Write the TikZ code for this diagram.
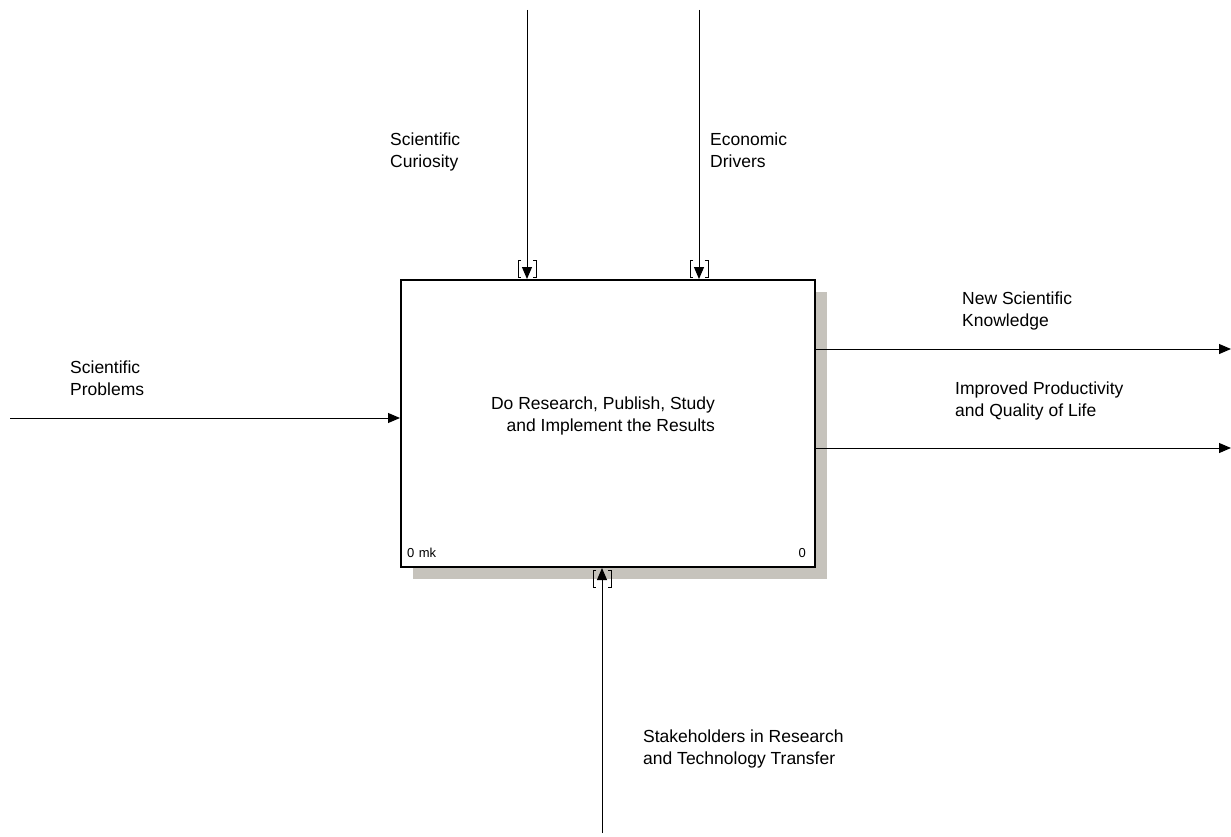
\documentclass[tikz,border=0pt]{standalone}
\usepackage{fontspec}
\setmainfont{Liberation Sans}
\usetikzlibrary{arrows.meta,calc,shadows}
\definecolor{shadowgray}{RGB}{198,195,188}
\tikzset{
  label text/.style={inner sep=0pt, align=left, anchor=north west,
    font=\fontsize{17.5}{22}\selectfont},
  corner text/.style={inner sep=0pt, font=\fontsize{13}{15}\selectfont},
  activity/.style={draw, line width=2pt, fill=white, inner sep=0pt,
    minimum width=414pt, minimum height=287pt,
    drop shadow={shadow xshift=12pt, shadow yshift=-12pt, fill=shadowgray, opacity=1}},
  flow/.style={line width=1pt, -{Triangle[length=12pt,width=10pt]}},
  tunnel/.pic={\draw[line width=1pt] (-6,0) -- (-9,0) -- (-9,17) -- (-6,17)
                                       (6,0) -- (9,0) -- (9,17) -- (6,17);}
}
\begin{document}
\begin{tikzpicture}[x=1pt,y=-1pt]
\useasboundingbox (0,0) rectangle (1231,837);

% the activity box
\node[activity] (act) at (608,423.5) {};
\node[label text, align=right, anchor=north east] (title) at (715,397)
  {Do Research, Publish, Study\\and Implement the Results};
\node[corner text, anchor=base west] (cost) at (407,557.5) {0\,\,mk};
\node[corner text, anchor=base east] (num) at (806,557.5) {0};

% free ends of the arrows
\coordinate (ctl1) at (527,10);
\coordinate (ctl2) at (699,10);
\coordinate (in1) at (10,418);
\coordinate (out1) at (1231,349);
\coordinate (out2) at (1231,448);
\coordinate (mech) at (602,833);

% controls
\draw[flow] (ctl1) -- (ctl1 |- act.north);
\draw[flow] (ctl2) -- (ctl2 |- act.north);
\pic at (527,260) {tunnel};
\pic at (699,260) {tunnel};
% input
\draw[flow] (in1) -- (in1 -| act.west);
% outputs
\draw[flow] (out1 -| act.east) -- (out1);
\draw[flow] (out2 -| act.east) -- (out2);
% mechanism
\draw[flow] (mech) -- (mech |- act.south);
\pic at (602,570) {tunnel};

% arrow labels
\node[label text] (l1) at (390,133) {Scientific\\Curiosity};
\node[label text] (l2) at (710,133) {Economic\\Drivers};
\node[label text] (l3) at (70,361) {Scientific\\Problems};
\node[label text] (l4) at (962,292) {New Scientific\\Knowledge};
\node[label text] (l5) at (955,382) {Improved Productivity\\and Quality of Life};
\node[label text] (l6) at (643,730) {Stakeholders in Research\\and Technology Transfer};
\end{tikzpicture}
\end{document}
